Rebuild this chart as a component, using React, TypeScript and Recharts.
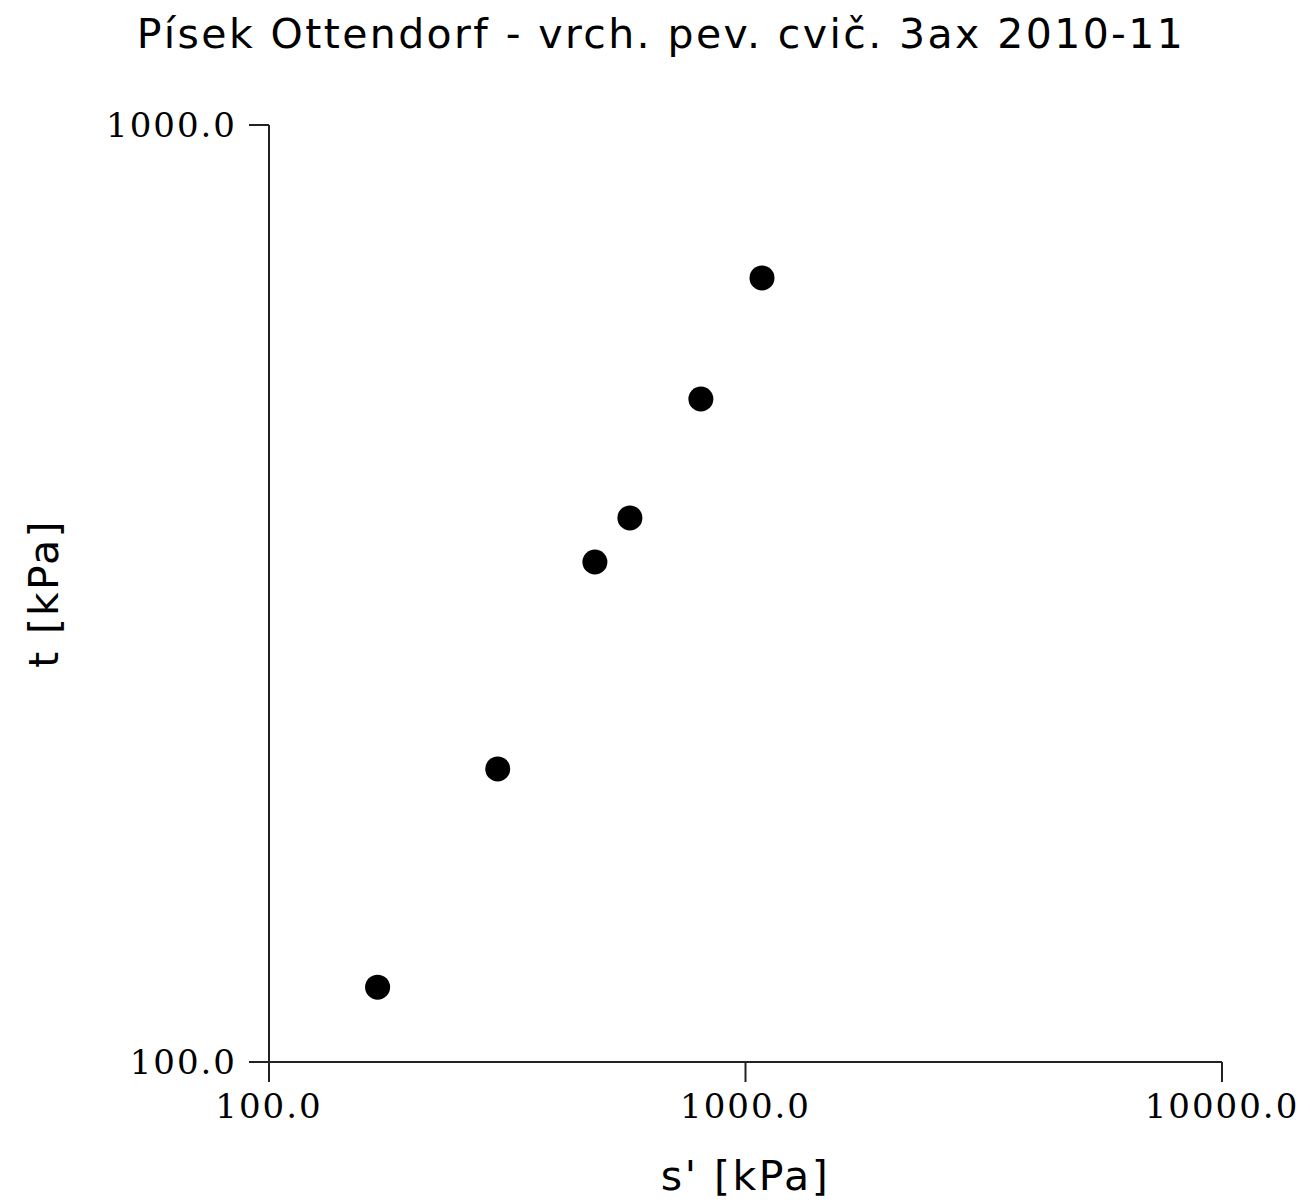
import { ScatterChart, Scatter, XAxis, YAxis, Label } from 'recharts';

// s' and t values (kPa)
const sValues = [169, 302, 483, 572, 806, 1083];
const tValues = [120.2, 205.5, 341.7, 380.8, 510.0, 686.7];
const xTicks = [100, 1000, 10000];
const yTicks = [100, 1000];

const points = sValues.map((s, i) => ({ s, t: tValues[i] }));

const TITLE = 'Písek Ottendorf - vrch. pev. cvič. 3ax 2010-11';
const labelFont = 'DejaVu Sans, Verdana, sans-serif';
const tickFont = 'DejaVu Serif, serif';

const YLabel = ({ viewBox }: any) => {
  const cx = 44;
  const cy = viewBox.y + viewBox.height / 2;
  return (
    <text
      x={cx}
      y={cy}
      transform={`rotate(-90 ${cx} ${cy})`}
      textAnchor="middle"
      dominantBaseline="central"
      fontFamily={labelFont}
      fontSize={41}
      letterSpacing={2.2}
      fill="#000"
    >
      t [kPa]
    </text>
  );
};

export default function App() {
  return (
    <div style={{ position: 'absolute', left: 0, top: 0, width: 1310, height: 1204, background: '#fff' }}>
      <svg width={1310} height={80} style={{ position: 'absolute', left: 0, top: 0 }}>
        <text x={661} y={48} textAnchor="middle" fontFamily={labelFont} fontSize={41} letterSpacing={2.4} fill="#000">
          {TITLE}
        </text>
      </svg>
      <div style={{ position: 'absolute', left: 0, top: 0 }}>
        <ScatterChart width={1310} height={1204} margin={{ top: 125, right: 88, left: 0, bottom: 0 }}>
          <XAxis
            type="number"
            dataKey="s"
            scale="log"
            domain={[100, 10000]}
            ticks={xTicks}
            allowDataOverflow
            height={142}
            tickSize={20}
            tickMargin={12}
            tickFormatter={(v: number) => v.toFixed(1)}
            stroke="#222"
            strokeWidth={2}
            tick={{ fill: '#000', fontFamily: tickFont, fontSize: 34, letterSpacing: 2 }}
            interval={0}
          >
            <Label
              value="s' [kPa]"
              position="insideBottom"
              offset={14}
              style={{ fontFamily: labelFont, fontSize: 41, letterSpacing: 2.5, fill: '#000' }}
            />
          </XAxis>
          <YAxis
            type="number"
            dataKey="t"
            scale="log"
            domain={[100, 1000]}
            ticks={yTicks}
            allowDataOverflow
            width={269}
            tickSize={20}
            tickMargin={12}
            tickFormatter={(v: number) => v.toFixed(1)}
            stroke="#222"
            strokeWidth={2}
            tick={{ fill: '#000', fontFamily: tickFont, fontSize: 34, letterSpacing: 2 }}
            interval={0}
          >
            <Label content={<YLabel />} />
          </YAxis>
          <Scatter
            data={points}
            fill="#000"
            isAnimationActive={false}
            shape={(props: any) => <circle cx={props.cx} cy={props.cy} r={12.5} fill="#000" />}
          />
        </ScatterChart>
      </div>
    </div>
  );
}
